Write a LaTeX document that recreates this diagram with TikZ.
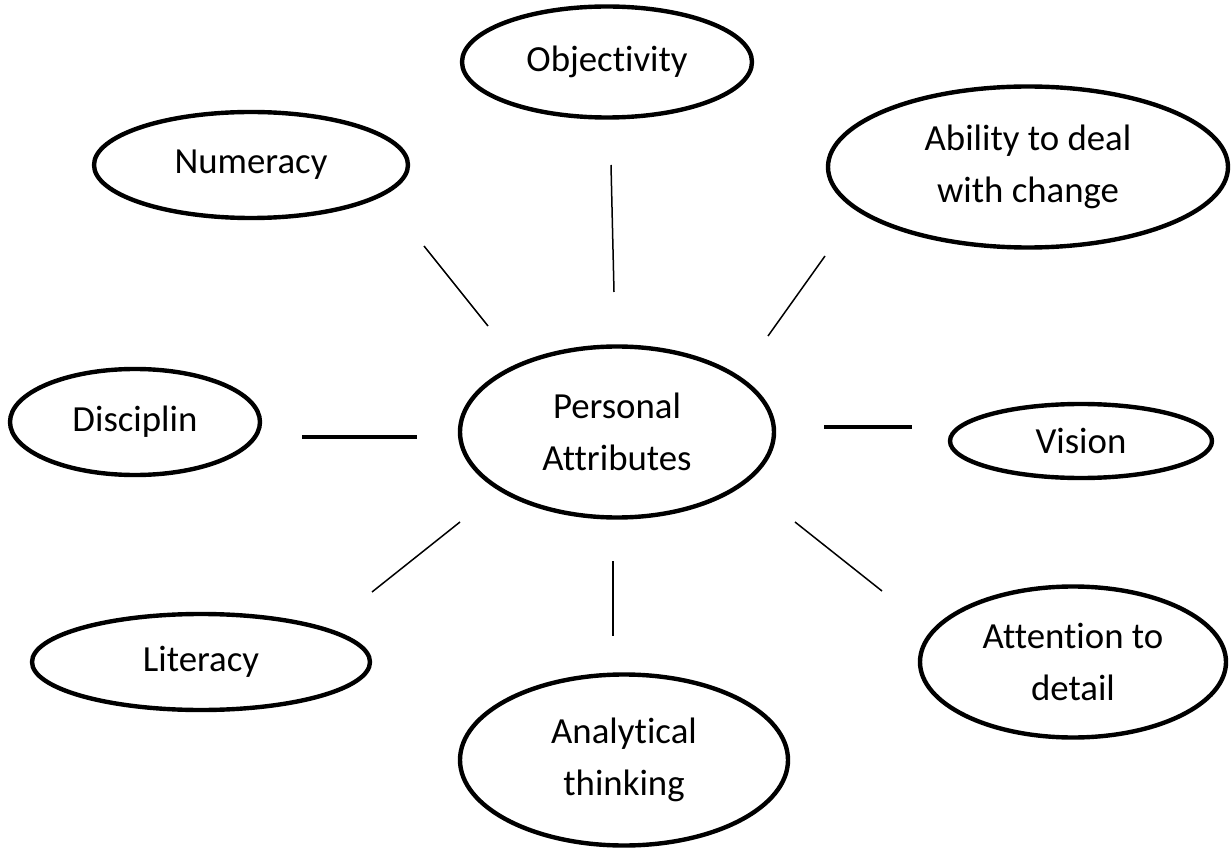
\documentclass[tikz,border=0pt]{standalone}
\usepackage{fontspec}
\setmainfont{Carlito}[RawFeature=-liga]
\usetikzlibrary{shapes.geometric}

\begin{document}
\begin{tikzpicture}
			[x=0.5pt,y=-0.5pt,
			attr/.style={ellipse,draw=black,line width=2.2pt,inner sep=0pt,align=center,
				font=\fontsize{18.4}{26}\selectfont},
			link/.style={draw=black,line width=0.75pt},
			boldlink/.style={draw=black,line width=2pt},
			]
			\useasboundingbox (0,0) rectangle (1232,850);
			\node (pa) [attr,minimum width=157pt,minimum height=85.5pt] at (617,432) {Personal\\Attributes};
			\node (obj) [attr,minimum width=145pt,minimum height=55.5pt] at (607,62) {Objectivity};
			\node (num) [attr,minimum width=157pt,minimum height=53pt] at (251,165) {Numeracy};
			\node (abl) [attr,minimum width=200pt,minimum height=80.5pt] at (1028,167) {Ability to deal\\with change};
			\node (dis) [attr,minimum width=125pt,minimum height=53pt] at (135,422) {Disciplin};
			\node (vis) [attr,minimum width=131pt,minimum height=37pt] at (1081,441) {Vision};
			\node (lit) [attr,minimum width=169pt,minimum height=48pt] at (201,662) {Literacy};
			\node (ana) [attr,minimum width=164pt,minimum height=85.5pt] at (624,760) {Analytical\\thinking};
			\node (att) [attr,minimum width=153pt,minimum height=75.5pt] at (1073,662) {Attention to\\detail};
			% free standing spokes
			\coordinate (num1) at (424,246); \coordinate (num2) at (488,326);
			\coordinate (obj1) at (611,165); \coordinate (obj2) at (614,292);
			\coordinate (abl1) at (825,256); \coordinate (abl2) at (768,336);
			\coordinate (dis1) at (302,437); \coordinate (dis2) at (417,437);
			\coordinate (vis1) at (824,427); \coordinate (vis2) at (912,427);
			\coordinate (lit1) at (460,522); \coordinate (lit2) at (372,592);
			\coordinate (ana1) at (613,561); \coordinate (ana2) at (613,636);
			\coordinate (att1) at (795,522); \coordinate (att2) at (882,591);
			\draw[link] (num1) -- (num2);
			\draw[link] (obj1) -- (obj2);
			\draw[link] (abl1) -- (abl2);
			\draw[boldlink] (dis1) -- (dis2);
			\draw[boldlink] (vis1) -- (vis2);
			\draw[link] (lit1) -- (lit2);
			\draw[link] (ana1) -- (ana2);
			\draw[link] (att1) -- (att2);
			\end{tikzpicture}
\end{document}
